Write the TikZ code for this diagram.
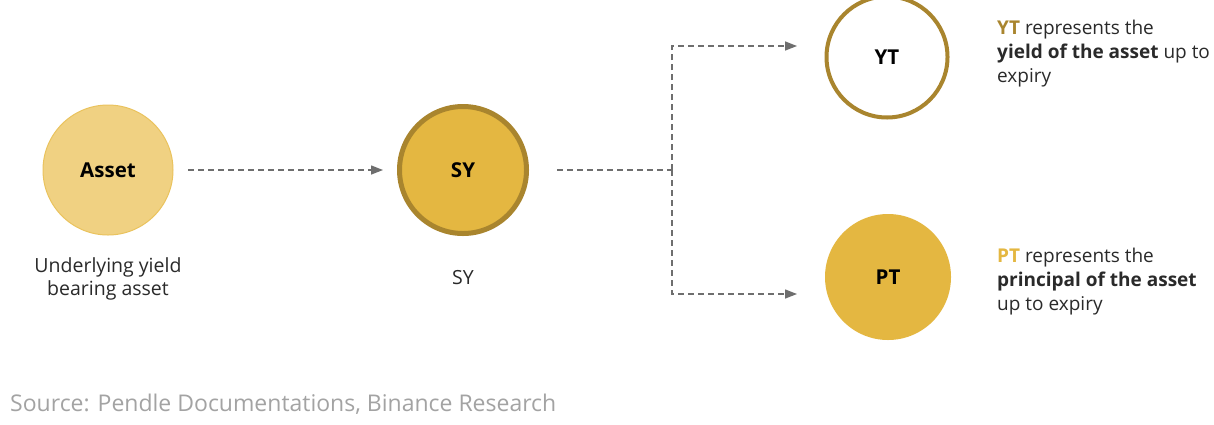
\documentclass[tikz,border=0pt]{standalone}
\usepackage{fontspec}
\setmainfont{Open Sans}
\usetikzlibrary{arrows.meta}
\definecolor{assetfill}{HTML}{F0D182}
\definecolor{assetline}{HTML}{EAC35E}
\definecolor{gold}{HTML}{E4B741}
\definecolor{darkgold}{HTML}{A9852E}
\definecolor{conn}{HTML}{6E6E6E}
\definecolor{srcgray}{HTML}{A3A3A3}
\definecolor{txt}{HTML}{2A2A2A}
\tikzset{
  circ/.style={circle, minimum size=#1, inner sep=0pt, font=\fontsize{20.5}{22}\selectfont\bfseries, text=black},
  conline/.style={draw=conn, line width=1.4pt, dash pattern=on 6pt off 4pt},
  tip/.style={-{Triangle[length=12pt,width=9pt]}},
  lbl/.style={font=\fontsize{19.5}{22.5}\selectfont, text=txt, align=center, inner sep=0pt},
  desc/.style={font=\fontsize{19}{24}\selectfont, text=txt, align=left, anchor=north west, inner sep=0pt},
}
\begin{document}
\begin{tikzpicture}[x=1pt,y=-1pt]
\clip (0,0) rectangle (1214,424);
\useasboundingbox (0,0) rectangle (1214,424);
\fill[white] (0,0) rectangle (1214,424);

\node[circ=130pt, fill=assetfill, draw=assetline, line width=1pt] (asset) at (108,170) {Asset};
\node[circ=127pt, fill=gold, draw=darkgold, line width=5pt] (sy) at (463,170) {SY};
\node[circ=121pt, fill=white, draw=darkgold, line width=4pt] (yt) at (887,57) {YT};
\node[circ=126pt, fill=gold] (pt) at (888,277) {PT};

\node[lbl] (assetlbl) at (108,279) {Underlying yield\\bearing asset};
\node[lbl] (sylbl) at (463,278) {SY};

\coordinate (a1) at (188,170);
\coordinate (a2) at (383,170);
\draw[conline, tip, conn] (a1) -- (a2);

\coordinate (s1) at (557,170);
\coordinate (j) at (672,170);
\coordinate (jt) at (672,46);
\coordinate (jb) at (672,294);
\coordinate (et) at (797,46);
\coordinate (eb) at (797,294);
\draw[conline] (s1) -- (j);
\draw[conline, tip, conn] (j) -- (jt) -- (et);
\draw[conline, tip, conn] (j) -- (jb) -- (eb);

\node[desc] (ytdesc) at (997,20) {\textcolor{darkgold}{\bfseries YT} represents the\\\textbf{yield of the asset} up to\\expiry};
\node[desc] (ptdesc) at (997,248) {\textcolor{gold}{\bfseries PT} represents the\\\textbf{principal of the asset}\\up to expiry};

\node[font=\fontsize{23}{26}\selectfont, text=srcgray, anchor=west, inner sep=0pt] (src) at (10,404) {Source: Pendle Documentations, Binance Research};
\end{tikzpicture}
\end{document}
